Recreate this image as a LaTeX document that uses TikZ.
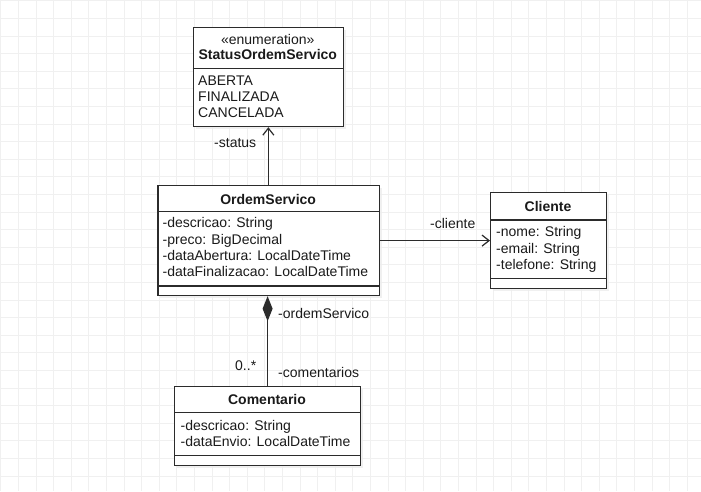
\documentclass[tikz,border=0pt]{standalone}
\usepackage{fontspec}
\setmainfont{Liberation Sans}
\usetikzlibrary{shadows,arrows.meta}
\definecolor{gridc}{HTML}{F0F0F0}
\definecolor{linec}{HTML}{2B2B2B}
\definecolor{textc}{HTML}{1A1A1A}
\begin{document}
\begin{tikzpicture}[x=1pt,y=-1pt,
  gridline/.style={draw=gridc,line width=0.7pt},
  umlbox/.style={draw=linec,fill=white,line width=1.2pt,inner sep=0pt,anchor=north west,
    drop shadow={shadow xshift=2.5pt,shadow yshift=-2.5pt,fill=black!7,opacity=0.8}},
  sep/.style={draw=linec,line width=1.2pt},
  txt/.style={inner sep=0pt,anchor=base west,text=textc,font=\fontsize{14}{16}\selectfont},
  ttl/.style={inner sep=0pt,anchor=base,text=textc,font=\fontsize{14}{16}\selectfont\bfseries},
  stereo/.style={inner sep=0pt,anchor=base,text=textc,font=\fontsize{14}{16}\selectfont},
  conn/.style={draw=linec,line width=1.2pt},
  openarrow/.style={conn,-{Straight Barb[length=7pt,width=11pt,line width=1.2pt]}},
  compo/.style={conn,{Diamond[length=25pt,width=10pt,fill=linec]}-}
]
\useasboundingbox (0,0) rectangle (701,491);
\fill[white] (0,0) rectangle (701,491);
\foreach \i in {0,...,40} { \draw[gridline] (0.7+17.6*\i,0) -- (0.7+17.6*\i,491); }
\foreach \i in {0,...,28} { \draw[gridline] (0,0.7+17.6*\i) -- (701,0.7+17.6*\i); }

% StatusOrdemServico
\node[umlbox,minimum width=150.5pt,minimum height=99.5pt] (status) at (192.5,26.5) {};
\draw[sep] (192.5,68.5) -- (343,68.5);
\node[stereo] (st0) at (267.75,44) {«enumeration»};
\node[ttl] (st1) at (267.75,59.5) {StatusOrdemServico};
\node[txt] (st2) at (198,85) {ABERTA};
\node[txt] (st3) at (198,101) {FINALIZADA};
\node[txt] (st4) at (198,117) {CANCELADA};

% OrdemServico
\node[umlbox,minimum width=221.7pt,minimum height=110pt] (ordem) at (157.3,185) {};
\draw[sep] (157.3,211.7) -- (379,211.7);
\draw[sep] (157.3,286) -- (379,286);
\node[ttl] (os0) at (268.15,204) {OrdemServico};
\node[txt] (os1) at (162.5,227.8) {-descricao: String};
\node[txt] (os2) at (162.5,244.1) {-preco: BigDecimal};
\node[txt] (os3) at (162.5,260.4) {-dataAbertura: LocalDateTime};
\node[txt] (os4) at (162.5,276.7) {-dataFinalizacao: LocalDateTime};

% Cliente
\node[umlbox,minimum width=116pt,minimum height=96pt] (cliente) at (490,192) {};
\draw[sep] (490,220) -- (606,220);
\node[ttl] (cl0) at (548,211.7) {Cliente};
\node[txt] (cl1) at (496,236.8) {-nome: String};
\node[txt] (cl2) at (496,253) {-email: String};
\node[txt] (cl3) at (496,269.3) {-telefone: String};
\draw[sep] (490,278.5) -- (606,278.5);

% Comentario
\node[umlbox,minimum width=186pt,minimum height=79pt] (coment) at (174,386) {};
\draw[sep] (174,412.7) -- (360,412.7);
\node[ttl] (cm0) at (267,404) {Comentario};
\node[txt] (cm1) at (180.5,430) {-descricao: String};
\node[txt] (cm2) at (180.5,446.3) {-dataEnvio: LocalDateTime};
\draw[sep] (174,455.5) -- (360,455.5);

% connectors
\draw[openarrow] (ordem.north -| status.south) -- (status.south);
\node[txt] (lstatus) at (214,147) {-status};
\draw[openarrow] (ordem.east) -- (cliente.west);
\node[txt] (lcliente) at (430,228) {-cliente};
\draw[compo] (ordem.south -| coment.north) -- (coment.north);
\node[txt] (lordem) at (278,318) {-ordemServico};
\node[txt] (lmult) at (235,370) {0..*};
\node[txt] (lcoment) at (278,377) {-comentarios};
\end{tikzpicture}
\end{document}
